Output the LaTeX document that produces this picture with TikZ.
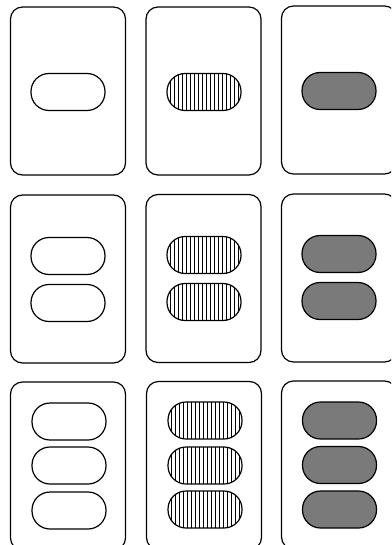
\documentclass[tikz,border=0pt]{standalone}
\begin{document}
\begin{tikzpicture}[x=1pt,y=-1pt,
  card/.style={draw, line width=1.2pt, rounded corners=12pt, minimum width=115pt, minimum height=168pt, inner sep=0pt, outer sep=0pt},
  oval/.style={draw, line width=1.2pt, rounded corners=18pt, minimum width=74pt, minimum height=37pt, inner sep=0pt, outer sep=0pt},
  openoval/.style={oval, fill=white},
  stripeoval/.style={oval, path picture={
      \foreach \i in {-34,-30,...,34}
        \draw[line width=0.7pt] ([xshift=\i pt]path picture bounding box.north) -- ([xshift=\i pt]path picture bounding box.south);}},
  solidoval/.style={oval, fill=black!52}]
\useasboundingbox (0,0) rectangle (391,545);
\clip (0,0) rectangle (391,545);
% cards
\node[card] (c11) at (68,91) {};
\node[card] (c12) at (203.5,91) {};
\node[card] (c13) at (339,90) {};
\node[card] (c21) at (68,279) {};
\node[card] (c22) at (203.5,278.5) {};
\node[card] (c23) at (339,278) {};
\node[card] (c31) at (68,466) {};
\node[card] (c32) at (204,465.5) {};
\node[card] (c33) at (339,465) {};
% row 1
\node[openoval] (o11a) at (68,92) {};
\node[stripeoval] (o12a) at (204,92) {};
\node[solidoval] (o13a) at (339,91) {};
% row 2
\node[openoval] (o21a) at (68,256) {};
\node[openoval] (o21b) at (68,303) {};
\node[stripeoval] (o22a) at (204,255) {};
\node[stripeoval] (o22b) at (204,302) {};
\node[solidoval] (o23a) at (339,254) {};
\node[solidoval] (o23b) at (339,301) {};
% row 3
\node[openoval] (o31a) at (69,421.5) {};
\node[openoval] (o31b) at (69,465.5) {};
\node[openoval] (o31c) at (69,510.5) {};
\node[stripeoval] (o32a) at (205,420.5) {};
\node[stripeoval] (o32b) at (205,465.5) {};
\node[stripeoval] (o32c) at (205,509.5) {};
\node[solidoval] (o33a) at (339.5,420.5) {};
\node[solidoval] (o33b) at (339.5,465) {};
\node[solidoval] (o33c) at (339.5,509.5) {};
\end{tikzpicture}
\end{document}
